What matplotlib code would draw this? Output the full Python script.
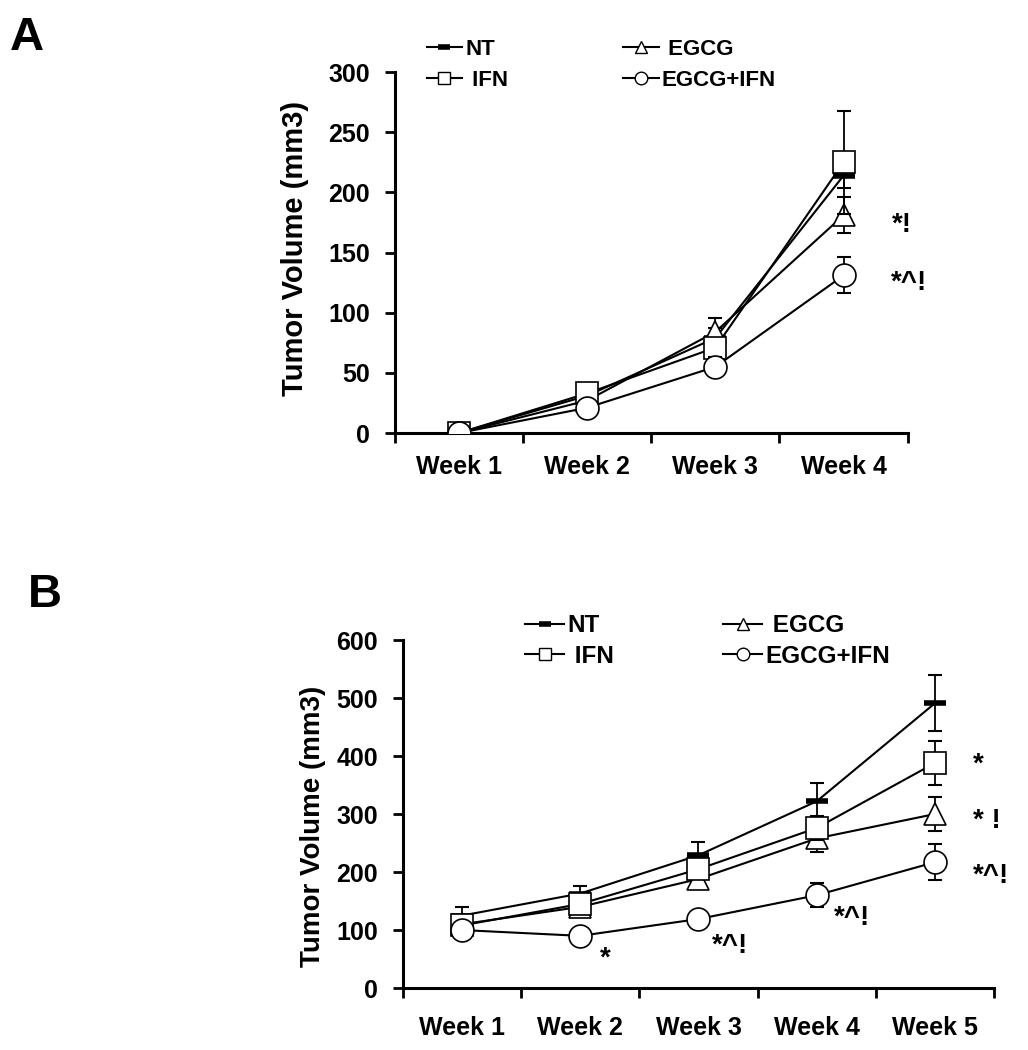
import matplotlib

matplotlib.use("Agg")
import matplotlib.pyplot as plt
from matplotlib.lines import Line2D

plt.rcParams["font.family"] = ["Liberation Sans", "DejaVu Sans"]
plt.rcParams["font.weight"] = "bold"

# panel A data
weeks_a = ["Week 1", "Week 2", "Week 3", "Week 4"]
nt_a = [0, 31, 79, 214]
nt_a_err = [0, 3, 8, 10]
ifn_a = [0, 33, 71, 225]
ifn_a_err = [0, 3, 6, 43]
egcg_a = [0, 27, 84, 181]
egcg_a_err = [0, 3, 12, 15]
combo_a = [0, 21, 55, 131]
combo_a_err = [0, 2, 8, 15]

# panel B data
weeks_b = ["Week 1", "Week 2", "Week 3", "Week 4", "Week 5"]
nt_b = [125, 163, 229, 322, 491]
nt_b_err = [14, 13, 23, 31, 48]
ifn_b = [108, 145, 205, 276, 388]
ifn_b_err = [8, 12, 12, 20, 38]
egcg_b = [110, 140, 188, 258, 300]
egcg_b_err = [8, 10, 12, 24, 29]
combo_b = [100, 90, 119, 160, 217]
combo_b_err = [8, 6, 8, 21, 31]

# significance marks
sig_a_text = ["*!", "*^!"]
sig_a_x = [4.375, 4.37]
sig_a_y = [167, 119]
sig_b_text = ["*", "*^!", "*^!", "*", "* !", "*^!"]
sig_b_x = [2.17, 3.11, 4.15, 5.32, 5.32, 5.32]
sig_b_y = [38, 60, 109, 374, 276, 181]

series_style = {
    "NT": dict(marker="_", ms=16, mew=4, mfc="black", zorder=3),
    "EGCG": dict(marker="^", ms=16, mew=1.2, mfc="white", zorder=4),
    "IFN": dict(marker="s", ms=16, mew=1.2, mfc="white", zorder=5),
    "EGCG+IFN": dict(marker="o", ms=16.5, mew=1.2, mfc="white", zorder=6),
}
legend_order = ["NT", "IFN", "EGCG", "EGCG+IFN"]
legend_labels = {"NT": "NT", "IFN": " IFN", "EGCG": " EGCG", "EGCG+IFN": "EGCG+IFN"}


def draw_panel(ax, weeks, series, ymax, ystep, sig_text, sig_x, sig_y,
               tick_fs, label_fs, label_x, label_y, leg_fs, leg_anchor,
               leg_colsp, leg_sp, xpad):
    x = list(range(1, len(weeks) + 1))
    for name, (vals, errs) in series.items():
        st = series_style[name]
        ax.errorbar(x, vals, yerr=errs, fmt="none", ecolor="black",
                    elinewidth=1.3, capsize=5, capthick=1.5, zorder=st["zorder"] - 0.5)
        ax.plot(x, vals, color="black", lw=1.5, marker=st["marker"],
                ms=st["ms"], mew=st["mew"], mec="black", mfc=st["mfc"],
                zorder=st["zorder"])

    ax.set_xlim(0.5, len(weeks) + 0.5)
    ax.set_ylim(0, ymax)
    ax.set_yticks(range(0, ymax + 1, ystep))
    ax.set_xticks([i + 0.5 for i in range(len(weeks) + 1)])
    ax.set_xticklabels([])
    ax.set_xticks(x, minor=True)
    ax.set_xticklabels(weeks, minor=True)
    ax.tick_params(axis="x", which="minor", length=0, pad=xpad, labelsize=tick_fs)
    ax.tick_params(axis="x", which="major", direction="out", length=7, width=2)
    ax.tick_params(axis="y", direction="out", length=7, width=2, pad=11,
                   labelsize=tick_fs)
    for s in ("top", "right"):
        ax.spines[s].set_visible(False)
    for s in ("left", "bottom"):
        ax.spines[s].set_linewidth(2.2)

    ax.set_ylabel("Tumor Volume (mm3)", fontsize=label_fs, fontweight="bold")
    ax.yaxis.set_label_coords(label_x, label_y)
    ax.yaxis.label.set_va("center")

    for t, tx, ty in zip(sig_text, sig_x, sig_y):
        ax.text(tx, ty, t, fontsize=20, fontweight="bold", ha="left",
                va="baseline")

    h_list = []
    for name in legend_order:
        st = series_style[name]
        h_list.append(Line2D([], [], color="black", lw=1.5, marker=st["marker"],
                             ms=st["ms"] * 0.55, mew=st["mew"] if name == "NT" else 1.0,
                             mec="black", mfc=st["mfc"]))
    ax.legend(h_list, [legend_labels[n] for n in legend_order], ncol=2,
              loc="upper left", bbox_to_anchor=leg_anchor,
              bbox_transform=ax.figure.transFigure, frameon=False,
              handlelength=1.6, handletextpad=0.15,
              columnspacing=leg_colsp, labelspacing=leg_sp, borderpad=0,
              borderaxespad=0, prop={"weight": "bold", "size": leg_fs})


fig = plt.figure(figsize=(10.28, 10.5), dpi=100)
ax_a = fig.add_axes([0.384, 0.5876, 0.499, 0.3438])
ax_b = fig.add_axes([0.392, 0.059, 0.5749, 0.3314])

draw_panel(
    ax_a, weeks_a,
    {"NT": (nt_a, nt_a_err), "EGCG": (egcg_a, egcg_a_err),
     "IFN": (ifn_a, ifn_a_err), "EGCG+IFN": (combo_a, combo_a_err)},
    300, 50, sig_a_text, sig_a_x, sig_a_y,
    tick_fs=18, label_fs=21, label_x=-0.195, label_y=0.51,
    leg_fs=16, leg_anchor=(0.415, 0.963), leg_colsp=5.2, leg_sp=0.45, xpad=16,
)
draw_panel(
    ax_b, weeks_b,
    {"NT": (nt_b, nt_b_err), "EGCG": (egcg_b, egcg_b_err),
     "IFN": (ifn_b, ifn_b_err), "EGCG+IFN": (combo_b, combo_b_err)},
    600, 100, sig_b_text, sig_b_x, sig_b_y,
    tick_fs=18, label_fs=20, label_x=-0.152, label_y=0.466,
    leg_fs=17.5, leg_anchor=(0.511, 0.415), leg_colsp=4.5, leg_sp=0.3, xpad=20,
)

fig.text(0.0097, 0.952, "A", fontsize=34, fontweight="bold", va="baseline")
fig.text(0.027, 0.422, "B", fontsize=34, fontweight="bold", va="baseline")

fig.savefig("out.png", dpi=100, facecolor="white")
